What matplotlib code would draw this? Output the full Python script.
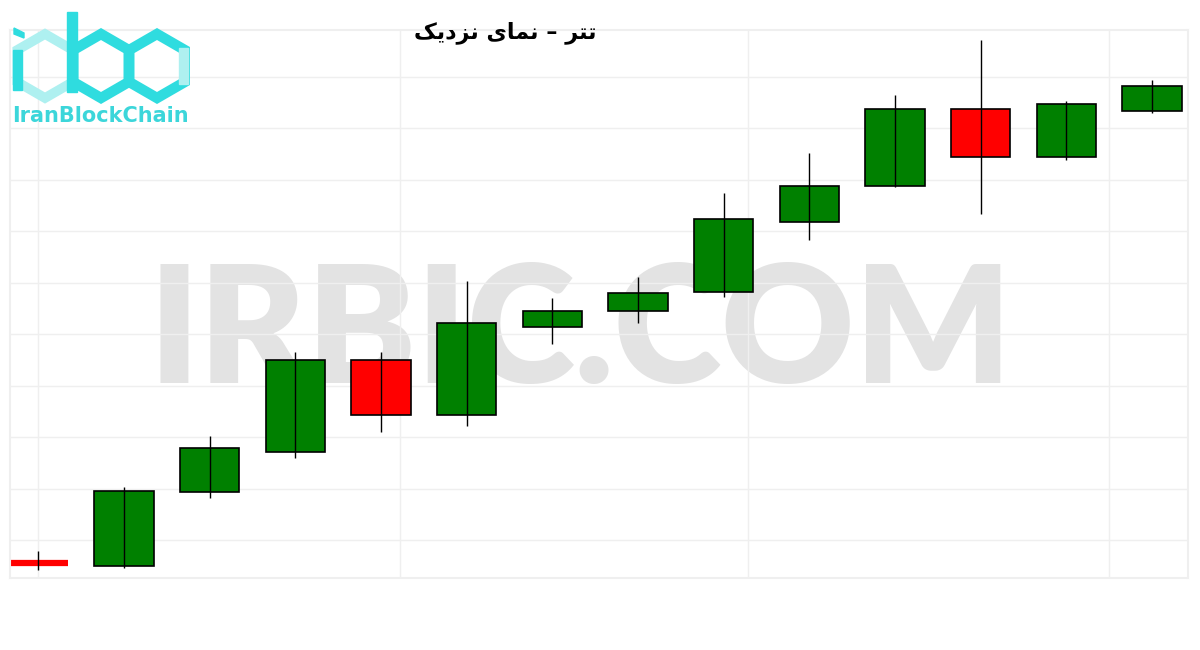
import numpy as np
import matplotlib
matplotlib.use("Agg")
import matplotlib.pyplot as plt
from matplotlib.patches import RegularPolygon, Polygon, Rectangle

# candle data (price units, arbitrary scale)
opens = [37, 34, 108, 148, 240, 185, 273, 289, 308, 378, 414, 491, 443, 489]
highs = [49, 113, 164, 248, 248, 319, 302, 323, 407, 447, 505, 560, 499, 520]
lows = [30, 32, 102, 142, 168, 174, 256, 277, 303, 360, 413, 386, 440, 487]
closes = [37, 109, 152, 240, 185, 277, 289, 307, 381, 414, 491, 443, 496, 514]

title = "\uFB8F\uFBFE\uFEA9\uFEB0\uFEE7 \uFBFC\uFE8E\uFEE4\uFEE7 \u2013 \uFEAE\uFE98\uFE97"  # تتر – نمای نزدیک (shaped, visual order)

up_color = "#008000"
down_color = "#ff0000"
grid_color = "#efefef"

fig = plt.figure(figsize=(12, 6.5), dpi=100)
fig.patch.set_facecolor("white")
ax = fig.add_axes([10 / 1200, 72 / 650, 1178 / 1200, 548 / 650])

x = np.arange(len(opens))
w = 0.69

# watermark behind candles
ax.text(6.33, 264, "IRBIC.COM", fontsize=118, fontweight="heavy", family="Lato",
        color="#e3e3e3", ha="center", va="center", zorder=0)

for i in x:
    o, h, l, c = opens[i], highs[i], lows[i], closes[i]
    col = up_color if c > o else down_color
    if abs(c - o) < 1:
        ax.hlines(o, i - w / 2, i + w / 2, color=col, lw=4.5, zorder=2)
    else:
        ax.bar(i, c - o, bottom=o, width=w, color=col, edgecolor="black", linewidth=1.2, zorder=2)
    ax.vlines(i, l, h, color="black", lw=1.0, zorder=3)

ax.set_xlim(-0.33, 13.42)
ax.set_ylim(22, 570)
ax.set_xticks([0, 4.22, 8.28, 12.5])
ax.set_yticks(np.arange(60, 560, 51.5))
ax.tick_params(length=0, labelbottom=False, labelleft=False)
ax.grid(True, color=grid_color, lw=1)
ax.set_axisbelow(True)
for s in ax.spines.values():
    s.set_color(grid_color)
    s.set_linewidth(1.5)

fig.text(505 / 1200, 1 - 33 / 650, title, fontsize=16, fontweight="bold",
         family=["DejaVu Sans"], ha="center", va="center")

# logo overlay in pixel coords
lg = fig.add_axes([0, 0, 1, 1])
lg.set_xlim(0, 1200)
lg.set_ylim(650, 0)
lg.axis("off")
dark = "#2fdcdf"
light = "#aef0f0"
lg.add_patch(RegularPolygon((45, 66), 6, radius=32, orientation=0, fill=False,
                            edgecolor=light, lw=7))
lg.add_patch(RegularPolygon((101, 66), 6, radius=32, orientation=0, fill=False,
                            edgecolor=dark, lw=7.5))
lg.add_patch(RegularPolygon((157, 66), 6, radius=32, orientation=0, fill=False,
                            edgecolor=dark, lw=7.5))
lg.add_patch(Rectangle((179, 48), 9, 36, color=light))
lg.add_patch(Rectangle((13, 50), 9, 40, color=dark))
lg.add_patch(Rectangle((67, 12), 10, 80, color=dark))
lg.add_patch(Polygon([(14, 28), (24, 33), (24, 38), (14, 34)], color=dark))
lg.text(12, 116, "IranBlockChain", fontsize=15, fontweight="bold",
        family="DejaVu Sans", color="#3cd6da", ha="left", va="center")

fig.savefig("out.png", dpi=100)
